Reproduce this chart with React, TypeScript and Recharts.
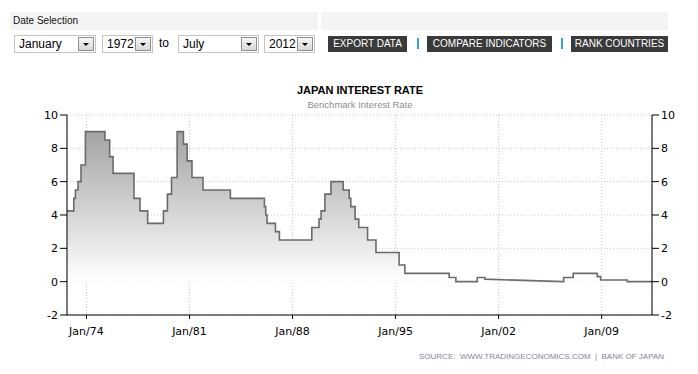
import React from 'react';
import { AreaChart, Area, XAxis, YAxis, CartesianGrid } from 'recharts';

// change points: from this date on, the rate is...
const changeDates = [
  1972.68, 1973.14, 1973.25, 1973.43, 1973.63, 1973.93, 1975.26, 1975.58, 1975.81,
  1977.23, 1977.64, 1978.16, 1979.23, 1979.5, 1979.78, 1980.16, 1980.59, 1980.84,
  1981.17, 1981.92, 1983.78, 1986.09, 1986.18, 1986.27, 1986.84, 1987.11, 1989.31,
  1989.8, 1989.94, 1990.2, 1990.61, 1991.44, 1991.85, 1991.96, 1992.25, 1992.5,
  1993.1, 1993.67, 1995.24, 1995.63, 1998.64, 1999.1, 2000.55, 2001.07, 2006.4,
  2006.42, 2007.07, 2008.7, 2008.93, 2010.74, 2012.42,
];
const rates = [
  4.25, 5.0, 5.5, 6.0, 7.0, 9.0, 8.5, 7.5, 6.5,
  5.0, 4.25, 3.5, 4.25, 5.25, 6.25, 9.0, 8.25, 7.25,
  6.25, 5.5, 5.0, 4.5, 4.0, 3.5, 3.0, 2.5, 3.25,
  3.75, 4.25, 5.25, 6.0, 5.5, 5.0, 4.5, 3.75, 3.25,
  2.5, 1.75, 1.0, 0.5, 0.25, 0, 0.25, 0.15, 0,
  0.25, 0.5, 0.3, 0.1, 0, 0,
];
// false = the line glides to this point instead of stepping
const stepped = changeDates.map((d) => d !== 2006.4);

const yTicks = [-2, 0, 2, 4, 6, 8, 10];
const xTicks = [1974, 1981, 1988, 1995, 2002, 2009];

const data: { t: number; v: number }[] = [];
changeDates.forEach((d, i) => {
  if (i > 0 && stepped[i]) data.push({ t: d, v: rates[i - 1] });
  data.push({ t: d, v: rates[i] });
});

const FONT = '"Liberation Sans", Arial, sans-serif';
const TICK_FONT = '"DejaVu Sans", Verdana, sans-serif';

const Select = ({ left, width, label }: { left: number; width: number; label: string }) => (
  <div
    style={{
      position: 'absolute', left, top: 35, width, height: 16, border: '1px solid #c4c4c4',
      background: '#fff', fontFamily: FONT, fontSize: 12, lineHeight: '16px', color: '#000',
    }}
  >
    <span style={{ marginLeft: 4 }}>{label}</span>
    <div
      style={{
        position: 'absolute', right: 1, top: 1, width: 14, height: 12, border: '1px solid #8f8f8f',
        background: 'linear-gradient(#f6f6f6, #d8d8d8)',
      }}
    >
      <div
        style={{
          position: 'absolute', left: 4, top: 5, width: 0, height: 0,
          borderLeft: '3px solid transparent', borderRight: '3px solid transparent', borderTop: '3px solid #000',
        }}
      />
    </div>
  </div>
);

const Button = ({ left, width, label }: { left: number; width: number; label: string }) => (
  <div
    style={{
      position: 'absolute', left, top: 36, width, height: 16, background: '#3a3a3a', color: '#fff',
      fontFamily: FONT, fontSize: 10, lineHeight: '16px', textAlign: 'center', whiteSpace: 'nowrap',
    }}
  >
    {label}
  </div>
);

const Sep = ({ left }: { left: number }) => (
  <div style={{ position: 'absolute', left, top: 38, width: 2, height: 11, background: '#3d9be0' }} />
);

const axisProps = {
  axisLine: { stroke: '#000' },
  tickLine: { stroke: '#000' },
  tick: { fill: '#000', fontSize: 11, fontFamily: TICK_FONT },
};

export default function App() {
  return (
    <div style={{ position: 'absolute', left: 0, top: 0, width: 698, height: 374, background: '#fff', overflow: 'hidden' }}>
      <div style={{ position: 'absolute', left: 10, top: 12, width: 308, height: 18, background: '#f4f4f4' }} />
      <div style={{ position: 'absolute', left: 321, top: 12, width: 347, height: 18, background: '#f4f4f4' }} />
      <div style={{ position: 'absolute', left: 13, top: 15, fontFamily: FONT, fontSize: 10, color: '#111' }}>
        Date Selection
      </div>
      <Select left={14} width={80} label="January" />
      <Select left={102} width={49} label="1972" />
      <div style={{ position: 'absolute', left: 159, top: 36, fontFamily: FONT, fontSize: 12 }}>to</div>
      <Select left={178} width={79} label="July" />
      <Select left={264} width={49} label="2012" />
      <Button left={328} width={79} label="EXPORT DATA" />
      <Sep left={417} />
      <Button left={427} width={125} label="COMPARE INDICATORS" />
      <Sep left={561} />
      <Button left={571} width={97} label="RANK COUNTRIES" />

      <div
        style={{
          position: 'absolute', left: 0, width: 720, top: 84, textAlign: 'center',
          fontFamily: FONT, fontWeight: 'bold', fontSize: 11, color: '#000',
        }}
      >
        JAPAN INTEREST RATE
      </div>
      <div
        style={{
          position: 'absolute', left: 0, width: 720, top: 99, textAlign: 'center',
          fontFamily: FONT, fontSize: 9.5, color: '#8c8c8c',
        }}
      >
        Benchmark Interest Rate
      </div>

      <div style={{ position: 'absolute', left: 0, top: 0 }}>
        <AreaChart width={698} height={374} data={data} margin={{ top: 115, right: 0, bottom: 29, left: 0 }}>
          <defs>
            <linearGradient id="rateFill" x1="0" y1="0" x2="0" y2="1">
              <stop offset="0%" stopColor="#a3a3a3" />
              <stop offset="100%" stopColor="#ffffff" />
            </linearGradient>
          </defs>
          <CartesianGrid yAxisId="l" stroke="#c8c8c8" strokeDasharray="1 2" vertical horizontal />
          <XAxis
            dataKey="t"
            type="number"
            domain={[1972.68, 2012.42]}
            allowDataOverflow
            ticks={xTicks}
            tickFormatter={(v: number) => 'Jan/' + String(v).slice(2)}
            height={30}
            tickSize={4}
            tickMargin={8}
            {...axisProps}
          />
          <YAxis yAxisId="l" orientation="left" width={67} domain={[-2, 10]} ticks={yTicks} tickSize={7} tickMargin={2} {...axisProps} />
          <YAxis yAxisId="r" orientation="right" width={46} domain={[-2, 10]} ticks={yTicks} tickSize={7} tickMargin={2} {...axisProps} />
          <Area
            yAxisId="l"
            type="linear"
            dataKey="v"
            baseValue={0}
            stroke="#6b6b6b"
            strokeWidth={1.6}
            fill="url(#rateFill)"
            fillOpacity={1}
            dot={false}
            activeDot={false}
            isAnimationActive={false}
          />
          <Area
            yAxisId="r"
            type="linear"
            dataKey="v"
            stroke="none"
            fill="none"
            dot={false}
            activeDot={false}
            isAnimationActive={false}
          />
        </AreaChart>
      </div>

      <div
        style={{
          position: 'absolute', left: 419, top: 352, fontFamily: FONT, fontSize: 8,
          letterSpacing: 0, color: '#7c879b', whiteSpace: 'pre',
        }}
      >
        {'SOURCE:  WWW.TRADINGECONOMICS.COM  |  BANK OF JAPAN'}
      </div>
    </div>
  );
}
